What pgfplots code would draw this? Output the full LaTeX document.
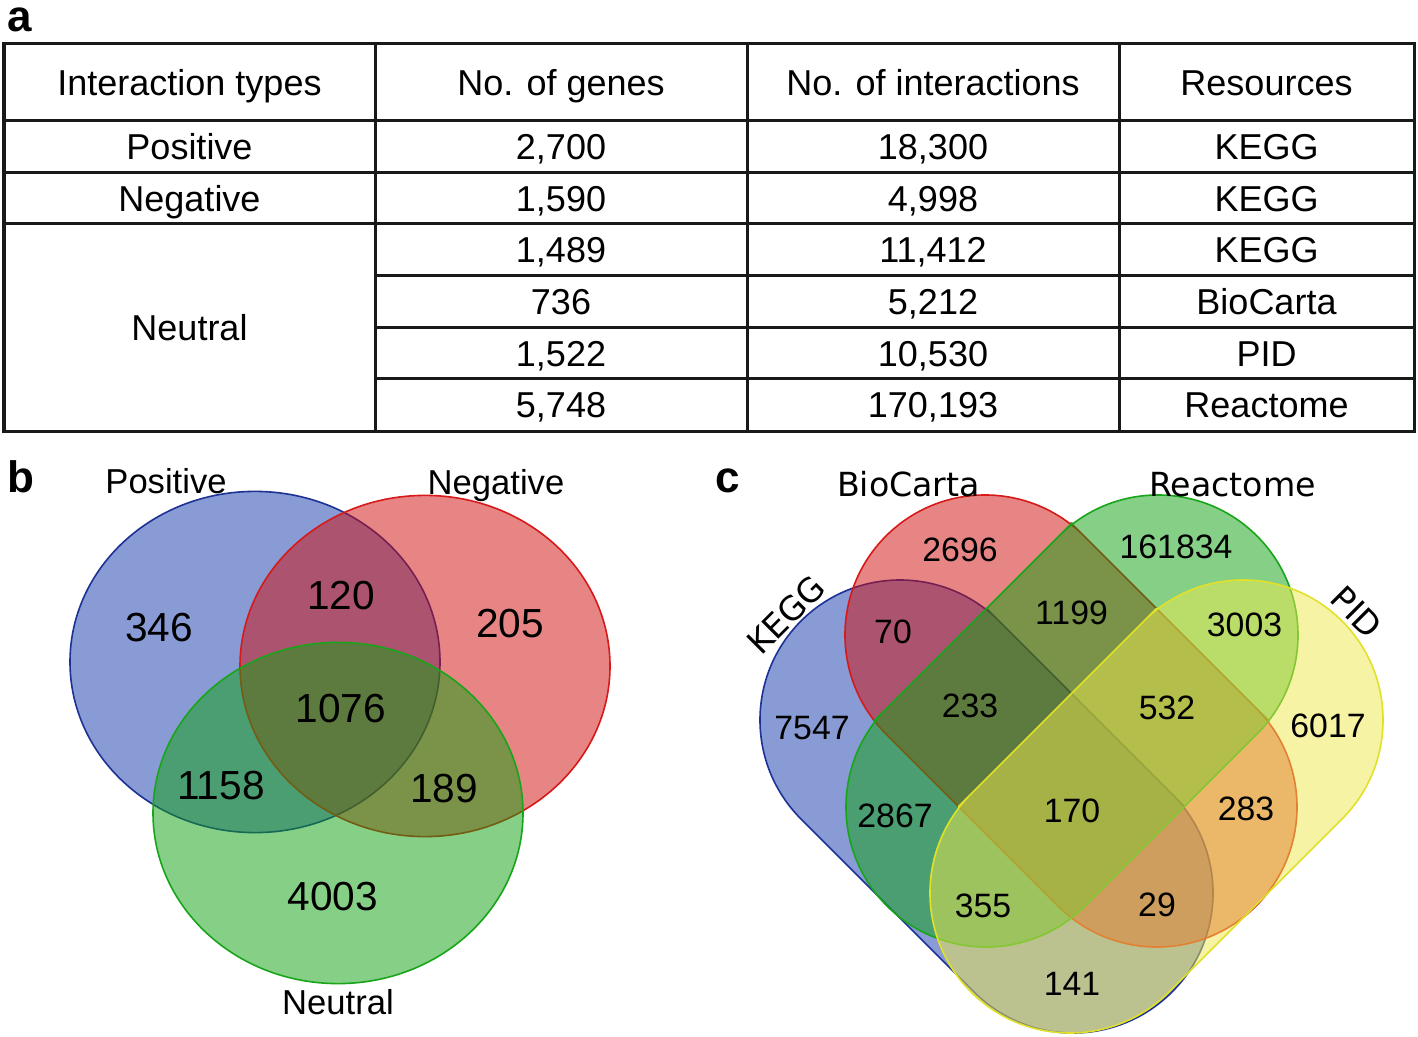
\documentclass[border=0pt]{standalone}
\usepackage{pgfplots}
\pgfplotsset{compat=1.18}
\usepackage{fontspec}
\setmainfont{Liberation Sans}
\newfontfamily\dejavu{DejaVu Sans}
\definecolor{vblue}{RGB}{19,57,173}
\definecolor{vred}{RGB}{209,13,13}
\definecolor{vgreen}{RGB}{15,161,15}
\definecolor{vyellow}{RGB}{239,233,77}
\definecolor{bblue}{RGB}{30,50,150}
\definecolor{bred}{RGB}{215,25,25}
\definecolor{bgreen}{RGB}{25,165,25}
\definecolor{byellow}{RGB}{225,225,40}
\definecolor{tline}{RGB}{25,25,25}
% ellipse mark for the three-set Venn (half-axes 185 x 170 px of the reference)
\pgfdeclareplotmark{vennellipse}{%
  \pgfpathellipse{\pgfpointorigin}{\pgfqpoint{92.5pt}{0pt}}{\pgfqpoint{0pt}{85.3pt}}%
  \pgfusepathqfillstroke}
\pgfplotsset{canvas/.style={hide axis, x=0.5pt, y=0.5pt, xmin=0, xmax=1418, ymin=0, ymax=1037,
  y dir=reverse, clip=false, anchor=south west, at={(0,0)}}}
\begin{document}
\begin{tikzpicture}[
 tl/.style={inner sep=0pt, text height=12.9pt, text depth=0pt, font=\fontsize{18}{20}\selectfont},
 bn/.style={inner sep=0pt, text height=14.5pt, text depth=0pt, font=\fontsize{20.3}{22}\selectfont},
 bl/.style={inner sep=0pt, text height=12.4pt, text depth=0pt, font=\fontsize{17.3}{19}\selectfont},
 cn/.style={inner sep=0pt, text height=12.1pt, text depth=0pt, font=\fontsize{16.9}{18}\selectfont},
 cl/.style={inner sep=0pt, text height=12.1pt, text depth=0pt, font=\dejavu\fontsize{16.6}{18}\selectfont},
 pl/.style={inner sep=0pt, anchor=base west, font=\bfseries\fontsize{22}{24}\selectfont},
 venn/.style={fill opacity=0.5, line width=0.8pt, line cap=round, line join=round},
 tbl/.style={draw=tline, line width=1.5pt, line cap=rect},
]
\begin{axis}[canvas]
% background
\addplot[fill=white, draw=none] coordinates {(0,0) (1418,0) (1418,1037) (0,1037)} -- cycle;

% ---------------- panel a: table ----------------
\addplot[tbl] coordinates {(4,44) (1414,44) (1414,431) (4,431)} -- cycle;
\addplot[tbl] coordinates {(4,121) (1414,121)};
\addplot[tbl] coordinates {(4,173) (1414,173)};
\addplot[tbl] coordinates {(4,224) (1414,224)};
\addplot[tbl] coordinates {(375,276) (1414,276)};
\addplot[tbl] coordinates {(375,328) (1414,328)};
\addplot[tbl] coordinates {(375,379) (1414,379)};
\addplot[tbl] coordinates {(375,44) (375,431)};
\addplot[tbl] coordinates {(747,44) (747,431)};
\addplot[tbl] coordinates {(1119,44) (1119,431)};

% ---------------- panel b: three-set Venn ----------------
\addplot[only marks, mark=vennellipse, mark options={venn, draw=bblue, fill=vblue}]
  coordinates {(255,662)};
\addplot[only marks, mark=vennellipse, mark options={venn, draw=bred, fill=vred}]
  coordinates {(425,666)};
\addplot[only marks, mark=vennellipse, mark options={venn, draw=bgreen, fill=vgreen}]
  coordinates {(338,813)};

% ---------------- panel c: four-set Venn ----------------
\addplot[venn, draw=bblue, fill=vblue, rounded corners=70pt]
  coordinates {(1085.5,707.5) (1271,893) (1073,1091) (702,720) (900,522)} -- cycle;
\addplot[venn, draw=bred, fill=vred, rounded corners=70pt]
  coordinates {(1170,622) (1355,807) (1157,1005) (787,635) (985,437)} -- cycle;
\addplot[venn, draw=bgreen, fill=vgreen, rounded corners=70pt]
  coordinates {(973,622) (788,807) (986,1005) (1356,635) (1158,437)} -- cycle;
\addplot[venn, draw=byellow, fill=vyellow, rounded corners=70pt]
  coordinates {(1057.5,707.5) (872,893) (1070,1091) (1441,720) (1243,522)} -- cycle;
\end{axis}

% text layer, same frame, drawn on top
\begin{axis}[canvas]
\node[tl] at (189.5,82.5) {Interaction types};
\node[tl] at (561,82.5) {No. of genes};
\node[tl] at (933,82.5) {No. of interactions};
\node[tl] at (1266.5,82.5) {Resources};

\node[tl] at (189.5,147) {Positive};
\node[tl] at (189.5,198.5) {Negative};
\node[tl] at (189.5,327.5) {Neutral};

\node[tl] at (561,147) {2,700};
\node[tl] at (561,198.5) {1,590};
\node[tl] at (561,250) {1,489};
\node[tl] at (561,302) {736};
\node[tl] at (561,353.5) {1,522};
\node[tl] at (561,405) {5,748};

\node[tl] at (933,147) {18,300};
\node[tl] at (933,198.5) {4,998};
\node[tl] at (933,250) {11,412};
\node[tl] at (933,302) {5,212};
\node[tl] at (933,353.5) {10,530};
\node[tl] at (933,405) {170,193};

\node[tl] at (1266.5,147) {KEGG};
\node[tl] at (1266.5,198.5) {KEGG};
\node[tl] at (1266.5,250) {KEGG};
\node[tl] at (1266.5,302) {BioCarta};
\node[tl] at (1266.5,353.5) {PID};
\node[tl] at (1266.5,405) {Reactome};

\node[bl] at (166,481) {Positive};
\node[bl] at (496,482) {Negative};
\node[bl] at (338,1002) {Neutral};
\node[bn] at (159,627) {346};
\node[bn] at (341,595) {120};
\node[bn] at (510,623) {205};
\node[bn] at (341,708) {1076};
\node[bn] at (221,785) {1158};
\node[bn] at (444,788) {189};
\node[bn] at (333,896) {4003};

\node[cl] at (908.5,484.5) {BioCarta};
\node[cl] at (1232.5,484.5) {Reactome};
\node[cl, rotate=45] at (786,615) {KEGG};
\node[cl, rotate=-45] at (1357,612) {PID};

\node[cn] at (960,549.5) {2696};
\node[cn] at (1176,546.5) {161834};
\node[cn] at (893,631) {70};
\node[cn] at (1071.5,612.5) {1199};
\node[cn] at (1244.5,624.5) {3003};
\node[cn] at (812,727) {7547};
\node[cn] at (970,705) {233};
\node[cn] at (1167,707) {532};
\node[cn] at (1328,725) {6017};
\node[cn] at (895,815) {2867};
\node[cn] at (1072,810) {170};
\node[cn] at (1246,808) {283};
\node[cn] at (983,905) {355};
\node[cn] at (1157,904) {29};
\node[cn] at (1072,983) {141};

% panel letters
\node[pl] at (7,32) {a};
\node[pl] at (7,492) {b};
\node[pl] at (715,492) {c};
\end{axis}
\pgfresetboundingbox
\useasboundingbox (current axis.south west) rectangle (current axis.north east);
\end{tikzpicture}
\end{document}
